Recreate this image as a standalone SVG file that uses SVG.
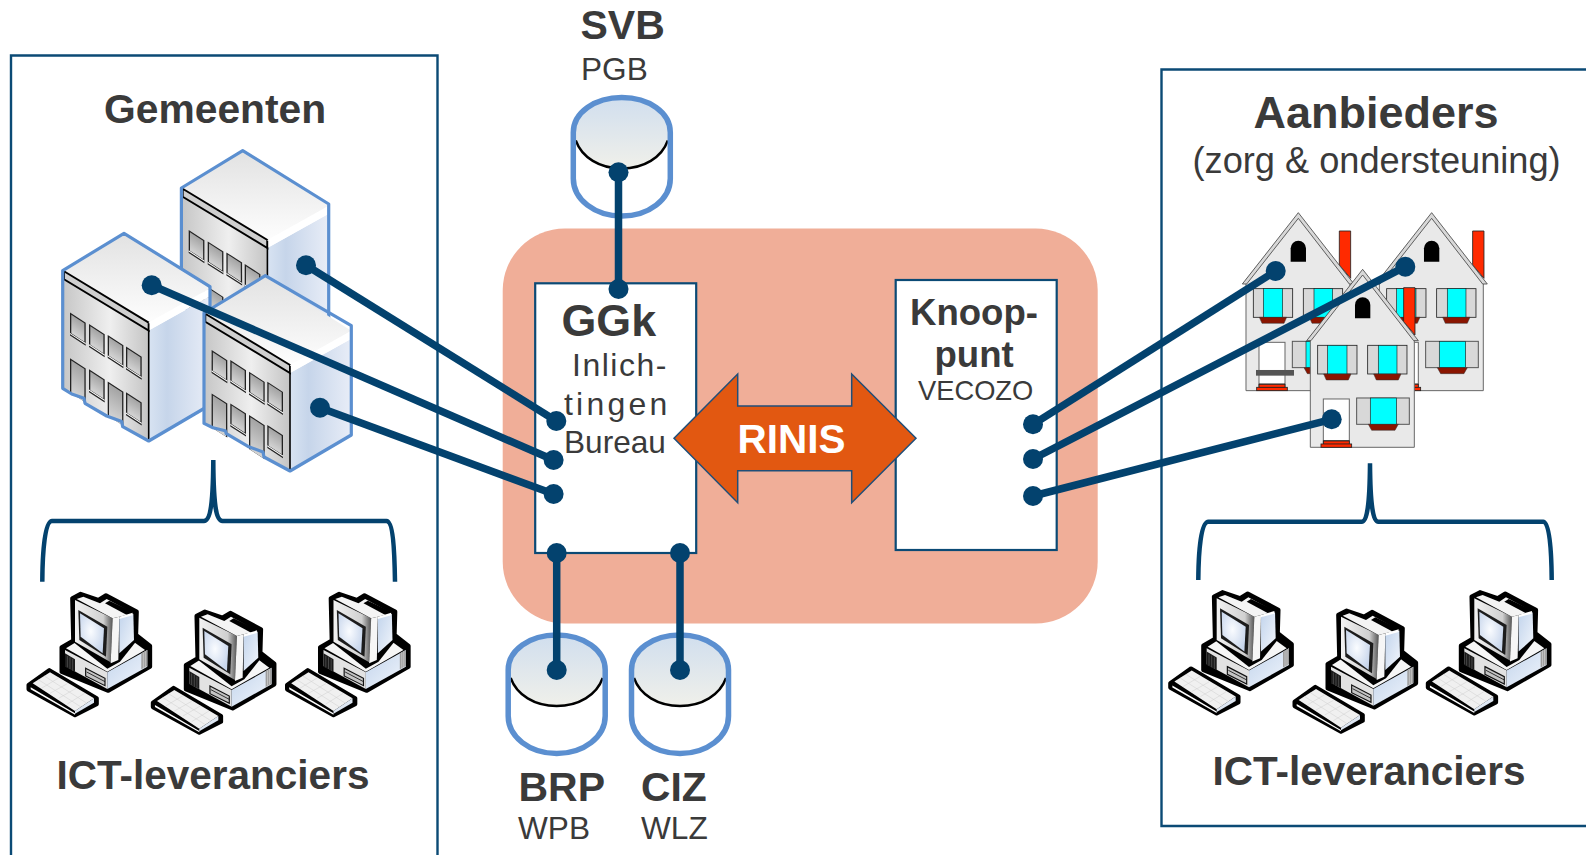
<svg xmlns="http://www.w3.org/2000/svg" xmlns:xlink="http://www.w3.org/1999/xlink" width="1586" height="855" viewBox="0 0 1586 855">
<style>
text{font-family:"Liberation Sans",Arial,sans-serif;fill:#3a3a3a}
.b{font-weight:bold}
.frame{fill:none;stroke:#0b4a75;stroke-width:2.4}
.box{fill:#fff;stroke:#0b4a75;stroke-width:2.2}
.conn{fill:none;stroke:#03426e;stroke-width:7.500}
.brace{fill:none;stroke:#03426e;stroke-width:4.500}
.dot{fill:#03426e}
.cyl{fill:none;stroke:#5b8fd0;stroke-width:5.500}
.out{fill:none;stroke:#5b8fd0;stroke-width:3.200;stroke-linejoin:round}
.blk{fill:#000;stroke:#000;stroke-width:13;stroke-linejoin:round}
.key{fill:none;stroke:#cfcfcf;stroke-width:1.500}
.hb{fill:#e9e9e9;stroke:#666;stroke-width:3}
.sh{fill:#d8d8d8;stroke:#222;stroke-width:2.500}
.gl{fill:#00ffff;stroke:#222;stroke-width:2}
.sill{fill:#8a1500;stroke:#333;stroke-width:1.500}
.red{fill:#ff2a00;stroke:#222;stroke-width:2.500}
</style>
<defs>
<linearGradient id="gTop" x1="0" y1="0" x2="0" y2="1"><stop offset="0" stop-color="#d0deee"/><stop offset="1" stop-color="#f0f0ea"/></linearGradient>
<linearGradient id="gRoof" x1="0" y1="0" x2="0" y2="1"><stop offset="0" stop-color="#e2e2e2"/><stop offset="1" stop-color="#ffffff"/></linearGradient>
<linearGradient id="gFront" x1="0" y1="0" x2="1" y2="0"><stop offset="0" stop-color="#c6c6c6"/><stop offset=".55" stop-color="#efefef"/><stop offset="1" stop-color="#c4c4c4"/></linearGradient>
<linearGradient id="gSide" x1="0" y1="0" x2="1" y2="0"><stop offset="0" stop-color="#d8e3f2"/><stop offset=".3" stop-color="#c6d5ea"/><stop offset="1" stop-color="#e8edf7"/></linearGradient>
<linearGradient id="gGlass" x1="0" y1="0" x2="0" y2="1"><stop offset="0" stop-color="#a4a4a4"/><stop offset="1" stop-color="#d4d4d4"/></linearGradient>
<linearGradient id="gBezel" x1="0" y1="0" x2="1" y2="0"><stop offset="0" stop-color="#f2f2f2"/><stop offset=".75" stop-color="#d0d0d0"/><stop offset="1" stop-color="#555"/></linearGradient>
<radialGradient id="gScreen" cx=".45" cy=".45" r=".6"><stop offset="0" stop-color="#fafcff"/><stop offset="1" stop-color="#c8d6ec"/></radialGradient>
<linearGradient id="gPcSide" x1="0" y1="0" x2="1" y2="1"><stop offset="0" stop-color="#c2d4ec"/><stop offset="1" stop-color="#f2f6fc"/></linearGradient>

<g id="cyl">
<path d="M-48.500,35C-48.500,15 -27,0 0,0C27,0 48.500,15 48.500,35V81C48.500,102 27,118.500 0,118.500C-27,118.500 -48.500,102 -48.500,81Z" fill="#fff"/>
<ellipse cx="0" cy="35" rx="47" ry="36" fill="url(#gTop)"/>
<path d="M-46,43C-40,60 -22,71 0,71C22,71 40,60 46,43" fill="none" stroke="#000" stroke-width="2.400"/>
<path class="cyl" d="M-48.500,35C-48.500,15 -27,0 0,0C27,0 48.500,15 48.500,35V81C48.500,102 27,118.500 0,118.500C-27,118.500 -48.500,102 -48.500,81Z"/>
</g>

<g id="win"><rect width="15.700" height="23" fill="#222"/><rect x="1.300" y="1.300" width="13.100" height="18.500" fill="url(#gGlass)"/><rect x="0" y="20.300" width="15.700" height="1.200" fill="#fff"/></g>
<g id="door"><rect width="15.700" height="34" fill="#222"/><rect x="1.300" y="1.300" width="13.100" height="32.700" fill="url(#gGlass)"/></g>

<g id="roof">
<path d="M0,0L-61.300,37.300L24.700,95L86,55Z" fill="url(#gRoof)"/>
<path d="M-60,38L24.700,89.300V97.300L-60,46Z" fill="#cfcfcf" stroke="#000" stroke-width="1.900"/>
<path d="M24.700,89.300L86,55V63L24.700,97.300Z" fill="#fff"/>
</g>

<g id="bldA">
<path d="M-61.300,40L24.700,97.300V207.700L-1.300,193.300L-2.300,188.300L-17.300,182.700L-39,170L-40,165L-52.300,160.700L-61.300,155Z" fill="url(#gFront)"/>
<path d="M24.700,97.300L86,63V171.700L24.700,207.700Z" fill="url(#gSide)"/>
<use href="#roof"/>
<path d="M24.700,90V207.700" stroke="#000" stroke-width="1.600" fill="none"/>
<use href="#win" transform="translate(-54,79.300) skewY(33)"/>
<use href="#win" transform="translate(-35,90.700) skewY(33)"/>
<use href="#win" transform="translate(-16.300,101.700) skewY(33)"/>
<use href="#win" transform="translate(2,113.300) skewY(33)"/>
<use href="#door" transform="translate(-54,125) skewY(33)"/>
<use href="#win" transform="translate(-35,136) skewY(33)"/>
<use href="#door" transform="translate(-16.300,148.300) skewY(33)"/>
<use href="#win" transform="translate(2,159) skewY(33)"/>
<path class="out" d="M0,0L-61.300,37.300V155L-52.300,160.700L-40,165L-39,170L-17.300,182.700L-2.300,188.300L-1.300,193.300L24.700,207.700L86,171.700V53.300Z"/>
</g>

<g id="pc">
<path class="blk" d="M157,85L182,72L235,90L258,76L350,125L348,195L390,228V290L265,362L125,305V232L160,212Z"/>
<path class="blk" d="M26,345L88,301L230,385V402L165,435L26,358Z"/>
<path d="M138,235L165,218L345,218L375,240L262,305Z" fill="#f6f6f6"/>
<path d="M135,240L262,307V357L135,288Z" fill="#e2e2e2"/>
<path d="M135,250L165,268V305L135,290Z" fill="#1a1a1a"/>
<path d="M142,258V292M150,262V297M158,267V302" stroke="#777" stroke-width="1.500" fill="none"/>
<path d="M197,295L255,325V347L197,318Z" fill="#c4c4c4" stroke="#111" stroke-width="3.500"/>
<path d="M200,306L255,335" stroke="#111" stroke-width="2.500" fill="none"/>
<path d="M262,307L382,240V290L262,357Z" fill="url(#gPcSide)"/>
<path d="M364,250L382,240V288L364,298Z" fill="#9c9c9c"/>
<path d="M370,248V294M376,244V291" stroke="#eee" stroke-width="1.500" fill="none"/>
<path d="M155,212L262,296L300,275L350,212L340,130H165Z" fill="#000"/>
<path d="M165,90L278,145L272,277L165,215Z" fill="url(#gBezel)"/>
<path d="M175,120L262,170L258,260L178,210Z" fill="#1c1c1c"/>
<path d="M180,130L252,175L248,250L182,200Z" fill="url(#gScreen)"/>
<path d="M278,145L298,140L295,270L272,280Z" fill="#f6f6f6"/>
<path d="M298,145L340,130L342,210L298,250Z" fill="url(#gPcSide)"/>
<path d="M170,87L190,80L240,100L260,87L340,130L298,140L278,145Z" fill="#f4f4f4"/>
<path d="M255,100L268,92L348,130L322,136Z" fill="#000"/>
<path d="M298,140L338,128V136L298,147Z" fill="#fff"/>
<path d="M38,340L90,307L222,385L165,423Z" fill="#f0f0f0"/>
<path class="key" d="M55,329L183,411M73,318L201,400M64,355L116,324M90,370L142,341M116,385L168,355M142,402L194,370"/>
<path d="M32,352L165,430V434L32,358Z" fill="#fff"/>
<path d="M165,423L222,385V398L165,431Z" fill="#dde6f2"/>
</g>

<g id="house">
<path class="hb" d="M108,240V572H420V240L265,45Z"/>
<path class="red" d="M388,93H422V235L388,195Z"/>
<path d="M97,252L265,38L432,252H418L265,55L110,252Z" fill="#d8d8d8" stroke="#444" stroke-width="2.500"/>
<path d="M242,185V145A23,23 0 0 1 288,145V185Z" fill="#000"/>
<rect class="sh" x="130" y="266" width="118" height="86"/><rect class="gl" x="160" y="266" width="58" height="86"/><path class="sill" d="M148,352H230L222,370H156Z"/>
<rect class="sh" x="280" y="266" width="118" height="86"/><rect class="gl" x="312" y="266" width="56" height="86"/><path class="sill" d="M298,352H380L372,370H306Z"/>
<rect x="147" y="427" width="78" height="133" fill="#fff" stroke="#666" stroke-width="3"/>
<path d="M147,552H225" stroke="#222" stroke-width="2.500"/>
<rect class="red" x="147" y="553" width="78" height="10"/>
<rect class="red" x="140" y="562" width="92" height="10"/>
<rect x="247" y="424" width="158" height="79" fill="#d8d8d8" stroke="#555" stroke-width="3"/><rect class="gl" x="288" y="424" width="79" height="79"/><path class="sill" d="M282,503H372L362,521H292Z"/>
</g>
</defs>

<rect width="1586" height="855" fill="#fff"/>

<g id="gemeenten">
<path class="frame" d="M11,855V55.500H437.500V855"/>
<text class="b" x="104" y="122.700" font-size="40.800">Gemeenten</text>
<g id="gemeente-2"><use href="#bldA" transform="translate(242.700,150.700)"/></g>
<g id="gemeente-1"><use href="#bldA" transform="translate(124,233.300)"/></g>
<g id="gemeente-3" transform="translate(265.300,275.700)">
<path d="M-61.300,40L24.700,97.300V195.300L-1.300,181.300L-2.300,176.300L-17.300,170.700L-39,158L-40,155L-52.300,152L-61.300,147.700Z" fill="url(#gFront)"/>
<path d="M24.700,97.300L86,63V159.300L24.700,195.300Z" fill="url(#gSide)"/>
<use href="#roof"/>
<path d="M24.700,90V195.300" stroke="#000" stroke-width="1.600" fill="none"/>
<use href="#win" transform="translate(-53.700,74.300) skewY(33)"/>
<use href="#win" transform="translate(-35,84.300) skewY(33)"/>
<use href="#win" transform="translate(-16.300,96) skewY(33)"/>
<use href="#win" transform="translate(2,106) skewY(33)"/>
<use href="#door" transform="translate(-53.700,117.700) skewY(33)"/>
<use href="#win" transform="translate(-35,127.700) skewY(33)"/>
<use href="#door" transform="translate(-16.300,139.300) skewY(33)"/>
<use href="#win" transform="translate(2,149.300) skewY(33)"/>
<path class="out" d="M0,0L-61.300,37.300V147.700L-52.300,152L-40,155L-39,158L-17.300,170.700L-2.300,176.300L-1.300,181.300L24.700,195.300L86,159.300V50Z"/>
</g>
<path class="brace" d="M42.300,581.700C42.500,550 45,521 52,521H204C210,521 213,505 213.300,460C213.500,505 216,521 222.500,521H386.500C393,521 394.500,550 395,581.700"/>
<g id="ict-g1" transform="translate(20,570) scale(.3333)"><use href="#pc"/></g>
<g id="ict-g2" transform="translate(144.300,587.700) scale(.3333)"><use href="#pc"/></g>
<g id="ict-g3" transform="translate(278.500,570) scale(.3333)"><use href="#pc"/></g>
<text class="b" x="56.500" y="789" font-size="40.500">ICT-leveranciers</text>
</g>

<g id="aanbieders">
<path class="frame" d="M1586,69.500H1161.500V826H1586"/>
<text class="b" x="1253.500" y="127.800" font-size="45">Aanbieders</text>
<text x="1192.500" y="172.700" font-size="36.200">(zorg &amp; ondersteuning)</text>
<g transform="translate(1210,200) scale(.3333)">
<g id="huis-1"><use href="#house"/><rect x="138" y="510" width="114" height="17" fill="#555"/></g>
<g id="huis-2"><use href="#house" transform="translate(400,0)"/></g>
<g id="huis-3"><use href="#house" transform="translate(193,170)"/></g>
</g>
<path class="brace" d="M1198.300,580C1198.500,550 1201,521.700 1208.300,521.700H1361.700C1367,521.700 1369.700,505 1370,463.300C1370.300,505 1373,521.700 1378.300,521.700H1543.300C1549.500,521.700 1551.500,550 1551.700,580"/>
<g id="ict-a1" transform="translate(1161.700,568.300) scale(.3333)"><use href="#pc"/></g>
<g id="ict-a2" transform="translate(1286,586.700) scale(.3333)"><use href="#pc"/></g>
<g id="ict-a3" transform="translate(1419.300,568.300) scale(.3333)"><use href="#pc"/></g>
<text class="b" x="1212.500" y="784.500" font-size="40.500">ICT-leveranciers</text>
</g>

<g id="rinis-vlak"><rect x="502.700" y="228.500" width="595" height="395" rx="62" fill="#f0ae98"/></g>

<g id="ggk">
<rect class="box" x="535.200" y="283.300" width="161" height="269.700"/>
<text class="b" x="561.500" y="335.700" font-size="44.800">GGk</text>
<text x="572" y="376" font-size="32" letter-spacing="1.500">Inlich-</text>
<text x="564" y="415" font-size="32" letter-spacing="3.200">tingen</text>
<text x="564" y="453.300" font-size="31.600">Bureau</text>
</g>

<g id="knooppunt">
<rect class="box" x="895.700" y="280" width="161" height="270"/>
<text class="b" x="910" y="325" font-size="36.600">Knoop-</text>
<text class="b" x="934.500" y="367" font-size="36.600">punt</text>
<text x="918" y="400.300" font-size="27.300">VECOZO</text>
</g>

<g id="rinis">
<path d="M674,438.300L737.700,374V406H851.700V374L916,438.300L851.700,502.700V470.700H737.700V502.700Z" fill="#e25811" stroke="#1f4e79" stroke-width="1.500"/>
<text class="b" x="737.500" y="453.300" font-size="40.500" style="fill:#fff">RINIS</text>
</g>

<g id="svb">
<use href="#cyl" transform="translate(621.800,97.500)"/>
<text class="b" x="580.500" y="39.300" font-size="41">SVB</text>
<text x="581" y="80.300" font-size="31.600">PGB</text>
</g>
<g id="brp">
<use href="#cyl" transform="translate(556.700,635)"/>
<text class="b" x="518.500" y="801" font-size="41">BRP</text>
<text x="518" y="839.300" font-size="31.600">WPB</text>
</g>
<g id="ciz">
<use href="#cyl" transform="translate(680,635)"/>
<text class="b" x="641" y="801" font-size="40.800">CIZ</text>
<text x="641" y="839.300" font-size="31.600">WLZ</text>
</g>

<g id="connectors">
<path class="conn" d="M618.500,172.300V289"/>
<path class="conn" d="M556.700,553V670"/>
<path class="conn" d="M680,553V670"/>
<path class="conn" d="M306,265.300L556.300,421"/>
<path class="conn" d="M151.700,285.300L553.600,460"/>
<path class="conn" d="M320,407.700L553.600,494"/>
<path class="conn" d="M1275.700,271L1033,424.300"/>
<path class="conn" d="M1405.300,266.700L1033,459"/>
<path class="conn" d="M1331.700,419.300L1033,496"/>
<circle class="dot" cx="618.500" cy="172.300" r="10"/><circle class="dot" cx="618.500" cy="289" r="10"/>
<circle class="dot" cx="556.700" cy="553" r="10"/><circle class="dot" cx="556.700" cy="670" r="10"/>
<circle class="dot" cx="680" cy="553" r="10"/><circle class="dot" cx="680" cy="670" r="10"/>
<circle class="dot" cx="306" cy="265.300" r="10"/><circle class="dot" cx="556.300" cy="421" r="10"/>
<circle class="dot" cx="151.700" cy="285.300" r="10"/><circle class="dot" cx="553.600" cy="460" r="10"/>
<circle class="dot" cx="320" cy="407.700" r="10"/><circle class="dot" cx="553.600" cy="494" r="10"/>
<circle class="dot" cx="1275.700" cy="271" r="10"/><circle class="dot" cx="1033" cy="424.300" r="10"/>
<circle class="dot" cx="1405.300" cy="266.700" r="10"/><circle class="dot" cx="1033" cy="459" r="10"/>
<circle class="dot" cx="1331.700" cy="419.300" r="10"/><circle class="dot" cx="1033" cy="496" r="10"/>
</g>
</svg>
